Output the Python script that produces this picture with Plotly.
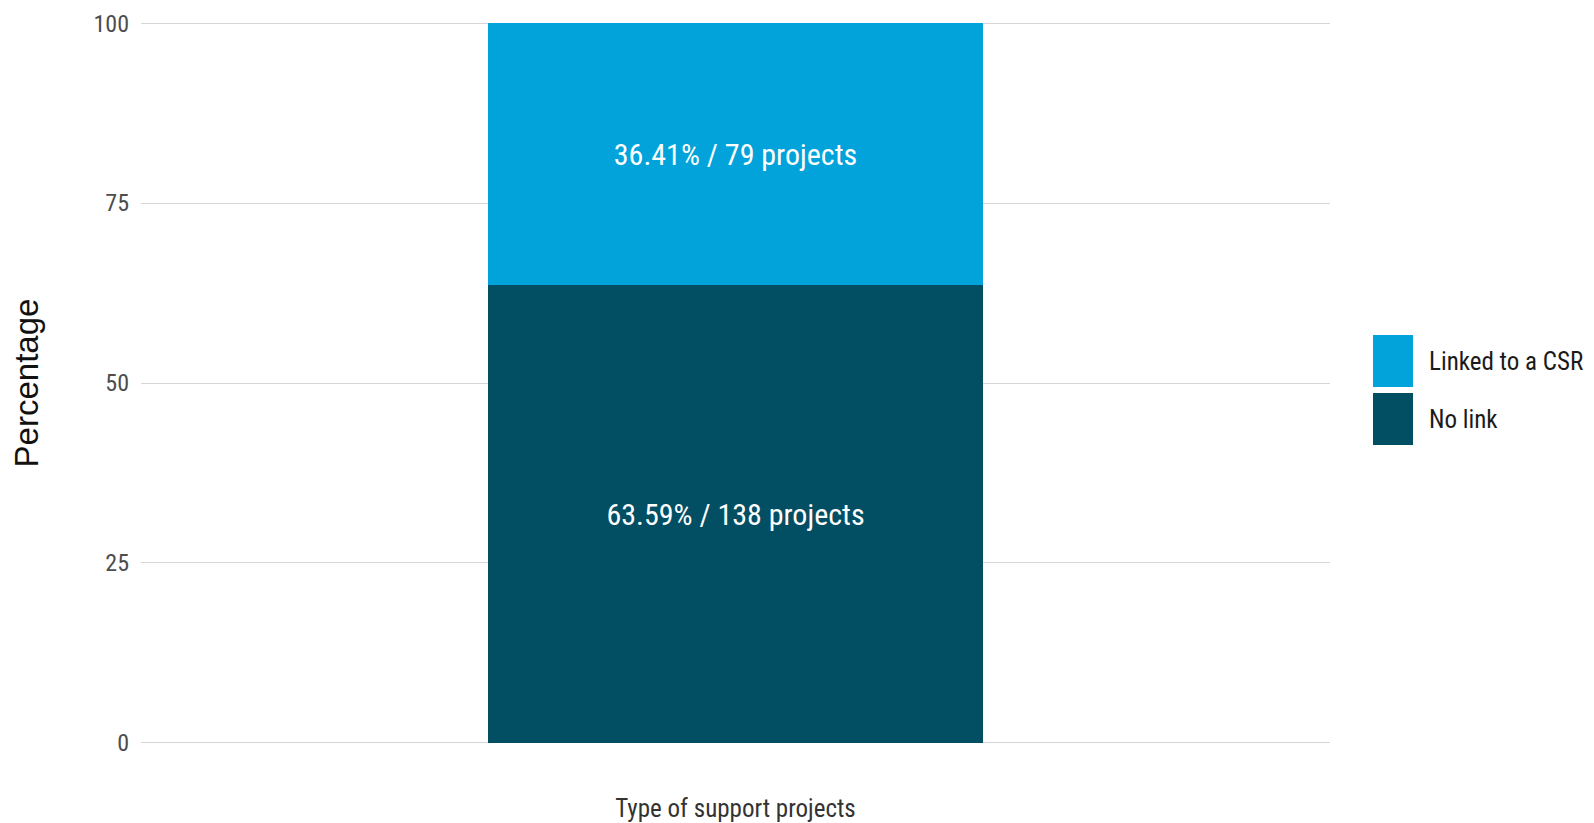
import plotly.graph_objects as go

categories = ["Type of support projects"]
series_names = ["No link", "Linked to a CSR"]
percentages = [63.59, 36.41]
project_counts = [138, 79]
colors = ["#024E63", "#01A3DA"]
y_ticks = [0, 25, 50, 75, 100]

NARROW = "Liberation Sans Narrow, Arial Narrow, Roboto Condensed, sans-serif"

W, H = 1594, 823
ML, MR, MT, MB = 133, 272, 13, 86
PW, PH = W - ML - MR, H - MT - MB


def px_x(px):
    return (px - ML) / PW


def px_y(py):
    return (H - MB - py) / PH


fig = go.Figure()
for name, pct, cnt, col in zip(series_names, percentages, project_counts, colors):
    fig.add_trace(go.Bar(
        x=categories, y=[pct], name=name, width=0.5,
        marker=dict(color=col, line=dict(width=0)),
        text=[f"{pct:.2f}% / {cnt} projects"],
        textposition="inside", insidetextanchor="middle",
        textfont=dict(family=NARROW, size=30, color="white"),
        textangle=0, showlegend=False,
    ))

# custom legend (large square swatches as in the reference)
legend_order = list(zip(series_names, colors))[::-1]
sw_left, sw_right, sw_h, sw_gap, sw_top = 1365, 1405, 52, 6, 327
shapes, annos = [], []
for i, (name, col) in enumerate(legend_order):
    top = sw_top + i * (sw_h + sw_gap)
    bot = top + sw_h
    shapes.append(dict(type="rect", xref="paper", yref="paper",
                       x0=px_x(sw_left), x1=px_x(sw_right),
                       y0=px_y(bot), y1=px_y(top),
                       fillcolor=col, line=dict(width=0), layer="above"))
    annos.append(dict(xref="paper", yref="paper", x=px_x(sw_right + 14),
                      y=px_y((top + bot) / 2), xanchor="left", yanchor="middle",
                      text=name, showarrow=False,
                      font=dict(family=NARROW, size=25, color="#1A1A1A")))

fig.update_layout(
    barmode="stack",
    width=W, height=H,
    paper_bgcolor="white", plot_bgcolor="white",
    margin=dict(l=ML, r=MR, t=MT, b=MB, autoexpand=False),
    showlegend=False,
    shapes=shapes, annotations=annos,
    xaxis=dict(
        range=[-0.6, 0.6], showticklabels=False, showgrid=False,
        zeroline=False, showline=False, ticks="", automargin=False,
        title=dict(text="Type of support projects",
                   font=dict(family=NARROW, size=25, color="#333333"),
                   standoff=54),
    ),
    yaxis=dict(
        range=[-0.3, 100.3], tickvals=y_ticks, ticktext=[str(v) for v in y_ticks],
        showgrid=True, gridcolor="#D6D6D6", gridwidth=1.2,
        zeroline=False, showline=False, ticks="", automargin=False,
        tickfont=dict(family=NARROW, size=24, color="#4D4D4D"),
        ticklabelstandoff=11, ticklabeloverflow="allow",
        title=dict(text="Percentage",
                   font=dict(family="Liberation Sans, Arial, sans-serif", size=33, color="#111111"),
                   standoff=57),
    ),
    uniformtext=dict(minsize=10, mode="show"),
)

fig.write_html("out.html")
